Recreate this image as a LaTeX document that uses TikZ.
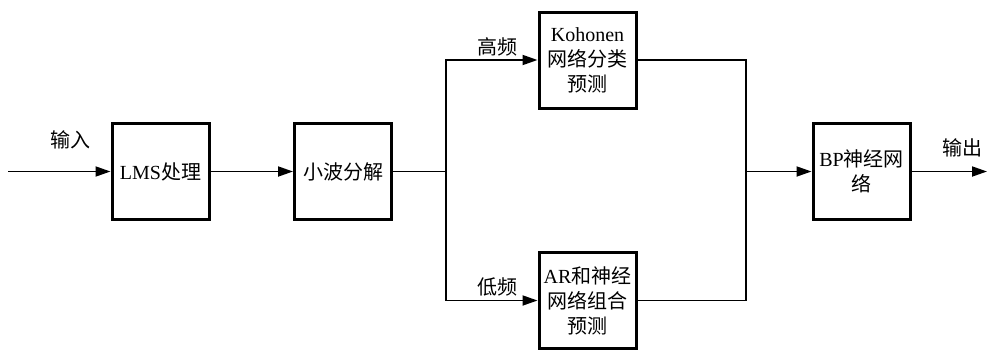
\documentclass[tikz,border=0pt]{standalone}
\usepackage{fontspec}
\setmainfont{Liberation Serif}
\newfontfamily\cjk{Noto Sans CJK SC}
\usetikzlibrary{arrows.meta}
\begin{document}
\begin{tikzpicture}[x=1pt,y=-1pt,
  blk/.style={draw,line width=3pt,minimum width=97pt,minimum height=96pt,inner sep=0pt,align=center,font=\fontsize{20}{25}\selectfont},
  conn/.style={line width=1.8pt},
  arr/.style={conn,-{Triangle[length=15pt,width=10pt]}},
  lbl/.style={font=\fontsize{20}{22}\selectfont\cjk}]
\useasboundingbox (0,0) rectangle (987,351);
\node[blk] (lms) at (160.5,171.5) {LMS\cjk 处理};
\node[blk] (wav) at (343,171.5) {\cjk 小波分解};
\node[blk] (koh) at (587.5,60) {Kohonen\\\cjk 网络分类\\\cjk 预测};
\node[blk] (ar) at (587.5,300.5) {AR\cjk 和神经\\\cjk 网络组合\\\cjk 预测};
\node[blk] (bp) at (861.5,171.5) {BP\cjk 神经网\\\cjk 络};
\coordinate (in) at (8,171.5);
\coordinate (out) at (987,171.5);
\coordinate (b) at (446,171.5);
\coordinate (m) at (746,171.5);
\draw[arr] (in) -- (lms.west);
\draw[arr] (lms.east) -- (wav.west);
\draw[conn] (wav.east) -- (b);
\draw[arr] (b) |- (koh.west);
\draw[arr] (b) |- (ar.west);
\draw[conn] (koh.east) -| (m);
\draw[conn] (ar.east) -| (m);
\draw[arr] (m) -- (bp.west);
\draw[arr] (bp.east) -- (out);
\node[lbl] (l1) at (70,140) {输入};
\node[lbl] (l2) at (497,47) {高频};
\node[lbl] (l3) at (497,287) {低频};
\node[lbl] (l4) at (962,148) {输出};
\end{tikzpicture}
\end{document}
